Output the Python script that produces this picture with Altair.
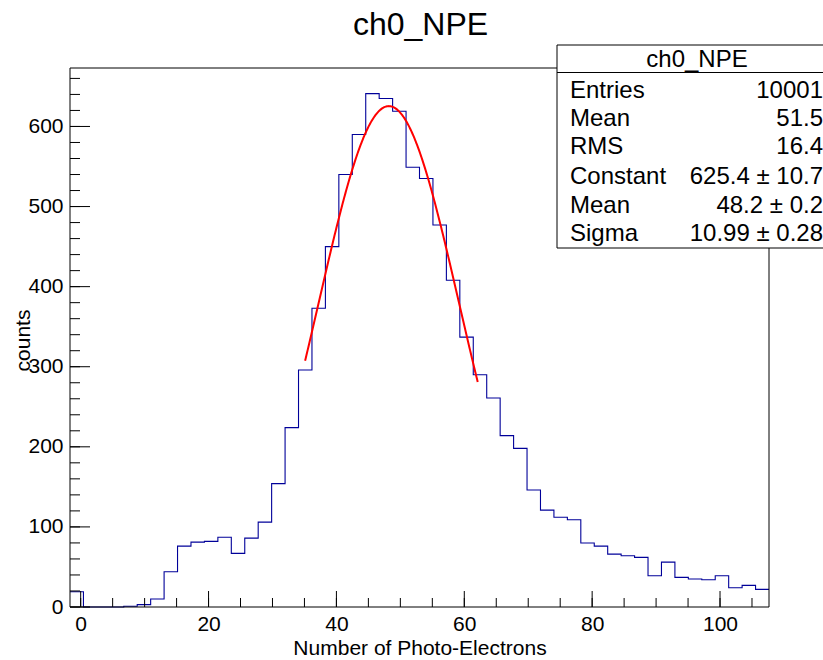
import altair as alt
import pandas as pd

FONT = "Liberation Sans"

# ---- histogram data (counts per bin) ----
COUNTS = [19, 0, 0, 0, 1, 3, 10, 44, 76, 81, 82, 87, 67, 86, 106, 154, 224, 296,
          373, 450, 540, 590, 641, 635, 619, 549, 535, 477, 408, 337, 290, 261,
          214, 198, 146, 121, 112, 109, 80, 76, 66, 64, 62, 39, 56, 37, 35, 34,
          39, 24, 27, 22]
X_MIN = -1.67
BIN_W = 2.1025
X_MAX = X_MIN + BIN_W * len(COUNTS)
Y_MAX = 673

X_LABELS = [0, 20, 40, 60, 80, 100]
X_MINOR = [0, 5, 10, 15, 20, 25, 30, 35, 40, 45, 50, 55, 60, 65, 70, 75, 80, 85, 90, 95, 100, 105]
Y_LABELS = [0, 100, 200, 300, 400, 500, 600]
Y_MINOR = [0, 20, 40, 60, 80, 100, 120, 140, 160, 180, 200, 220, 240, 260, 280, 300, 320,
           340, 360, 380, 400, 420, 440, 460, 480, 500, 520, 540, 560, 580, 600, 620, 640, 660]

TITLE = "ch0_NPE"
X_TITLE = "Number of Photo-Electrons"
Y_TITLE = "counts"

STAT_NAMES = ["Entries", "Mean", "RMS", "Constant", "Mean", "Sigma"]
STAT_VALUES = ["10001", "51.5", "16.4", "625.4 \u00b1 10.7", "48.2 \u00b1 0.2", "10.99 \u00b1 0.28"]

FIT_CONST = 625.4
FIT_MEAN = 48.2
FIT_SIGMA = 10.99
FIT_RANGE = [35.1, 62.1]

W, H = 699, 539

edges = [X_MIN + i * BIN_W for i in range(len(COUNTS) + 1)]
hist_df = pd.DataFrame({"x": edges, "y": COUNTS + [COUNTS[-1]]})

xscale = alt.Scale(domain=[X_MIN, X_MAX], nice=False, zero=False)
yscale = alt.Scale(domain=[0, Y_MAX], nice=False, zero=False)

x_axis = alt.Axis(
    values=X_LABELS, ticks=False, domain=False, grid=False,
    labelFont=FONT, labelFontSize=21, labelColor="black", labelPadding=6,
    title=X_TITLE, titleFont=FONT, titleFontSize=21, titleFontWeight="normal",
    titleColor="black", titleBaseline="alphabetic", titleY=47, titleX=W / 2,
    titleAlign="center")
y_axis = alt.Axis(
    values=Y_LABELS, ticks=False, domain=False, grid=False,
    labelFont=FONT, labelFontSize=21, labelColor="black", labelPadding=7,
    title=Y_TITLE, titleFont=FONT, titleFontSize=21, titleFontWeight="normal",
    titleColor="black", titleBaseline="alphabetic", titleX=-41, titleY=272,
    titleAlign="center", titleAngle=270)


def X(field):
    return alt.X(field, scale=xscale, axis=x_axis)


def Y(field):
    return alt.Y(field, scale=yscale, axis=y_axis)


hist = alt.Chart(hist_df).mark_line(
    interpolate="step-after", color="#000099", strokeWidth=1.1
).encode(x=X("x:Q"), y=Y("y:Q"))

fit = alt.Chart(alt.sequence(FIT_RANGE[0], FIT_RANGE[1] + 0.05, 0.1, as_="x")).transform_calculate(
    y=f"{FIT_CONST}*exp(-0.5*pow((datum.x-{FIT_MEAN})/{FIT_SIGMA},2))"
).mark_line(color="#ff0000", strokeWidth=2).encode(x=X("x:Q"), y=Y("y:Q"))

one = pd.DataFrame({"a": [0]})

# frame
frame = [
    alt.Chart(one).mark_rule(color="black", strokeWidth=1).encode(
        x=alt.value(0), x2=alt.value(W), y=alt.value(0)),
    alt.Chart(one).mark_rule(color="black", strokeWidth=1).encode(
        x=alt.value(0), x2=alt.value(W), y=alt.value(H)),
    alt.Chart(one).mark_rule(color="black", strokeWidth=1).encode(
        x=alt.value(0), y=alt.value(0), y2=alt.value(H)),
    alt.Chart(one).mark_rule(color="black", strokeWidth=1).encode(
        x=alt.value(W), y=alt.value(0), y2=alt.value(H)),
]

xmaj = alt.Chart(pd.DataFrame({"x": X_LABELS})).mark_rule(color="black").encode(
    x=X("x:Q"), y=alt.value(H), y2=alt.value(H - 16))
xmin_t = alt.Chart(pd.DataFrame({"x": X_MINOR})).mark_rule(color="black").encode(
    x=X("x:Q"), y=alt.value(H), y2=alt.value(H - 9))
ymaj = alt.Chart(pd.DataFrame({"y": Y_LABELS})).mark_rule(color="black").encode(
    y=Y("y:Q"), x=alt.value(0), x2=alt.value(20))
ymin_t = alt.Chart(pd.DataFrame({"y": Y_MINOR})).mark_rule(color="black").encode(
    y=Y("y:Q"), x=alt.value(0), x2=alt.value(10))

title = alt.Chart(one).mark_text(
    text=TITLE, font=FONT, fontSize=32, align="center", baseline="alphabetic", color="black"
).encode(x=alt.value(W / 2 + 1), y=alt.value(-33))

# stats box
BOX_L, BOX_R, BOX_T, BOX_B = 487, 767, -23, 180
box = alt.Chart(one).mark_rect(fill="white", stroke="black", strokeWidth=1).encode(
    x=alt.value(BOX_L), x2=alt.value(BOX_R), y=alt.value(BOX_T), y2=alt.value(BOX_B))
box_line = alt.Chart(one).mark_rule(color="black", strokeWidth=1).encode(
    x=alt.value(BOX_L), x2=alt.value(BOX_R), y=alt.value(4.5))
box_title = alt.Chart(one).mark_text(
    text=TITLE, font=FONT, fontSize=24, align="center", baseline="alphabetic", color="black"
).encode(x=alt.value((BOX_L + BOX_R) / 2), y=alt.value(-1.5))

row_base = [30.3, 57.6, 86.3, 115.6, 144.8, 172.5]
stat_layers = []
for name, val, yb in zip(STAT_NAMES, STAT_VALUES, row_base):
    stat_layers.append(alt.Chart(one).mark_text(
        text=name, font=FONT, fontSize=24, align="left", baseline="alphabetic", color="black"
    ).encode(x=alt.value(500), y=alt.value(yb)))
    stat_layers.append(alt.Chart(one).mark_text(
        text=val, font=FONT, fontSize=24, align="right", baseline="alphabetic", color="black"
    ).encode(x=alt.value(753), y=alt.value(yb)))

chart = alt.layer(
    hist, fit, xmaj, xmin_t, ymaj, ymin_t, *frame, title, box, box_line, box_title, *stat_layers
).properties(
    width=W, height=H,
    autosize=alt.AutoSizeParams(type="none"),
    padding={"left": 70, "top": 68, "right": 54, "bottom": 53},
    background="white",
).configure_view(strokeWidth=0).configure_axis(
    labelFont=FONT, labelFontSize=21, labelColor="black",
    titleFont=FONT, titleFontSize=21, titleColor="black", titleFontWeight="normal",
)

chart.save("out.html", embed_options={"renderer": "svg", "actions": False})
